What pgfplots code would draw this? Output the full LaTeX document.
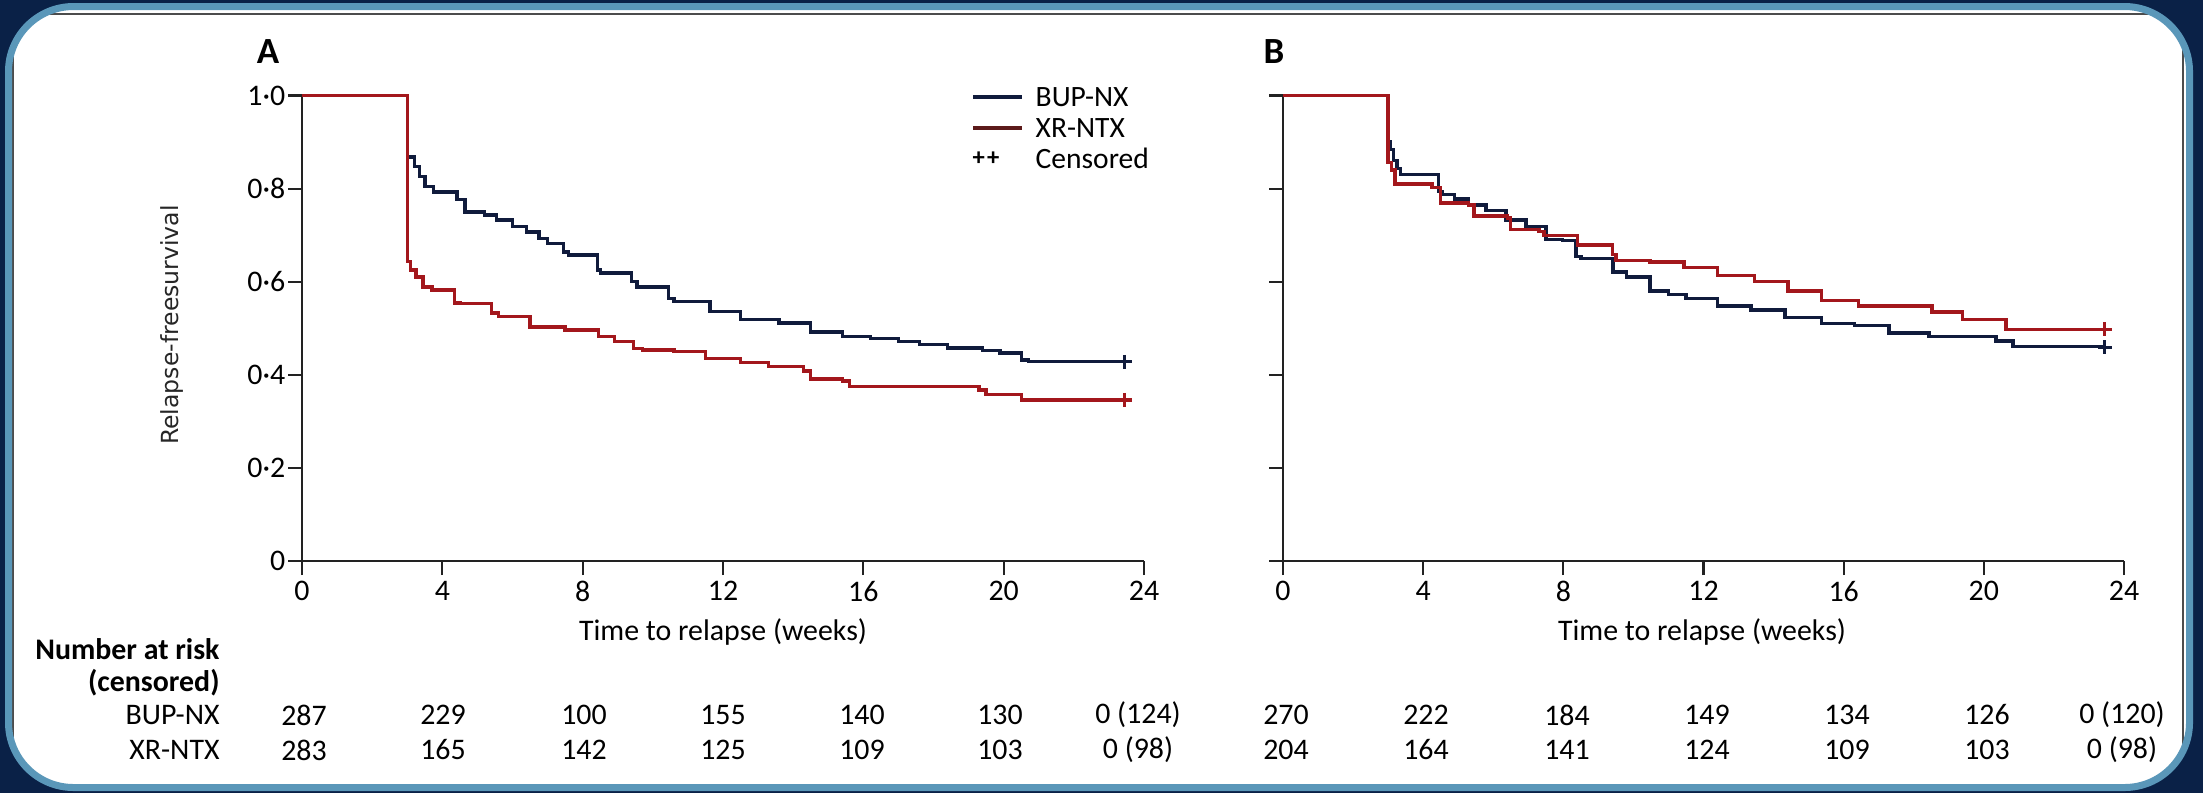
\documentclass[border=0pt]{standalone}
\usepackage{pgfplots}
\pgfplotsset{compat=1.18}
\usepackage{fontspec}
\setmainfont{Carlito}
\newfontfamily\dejavu{DejaVu Sans}
\definecolor{navybg}{HTML}{0A2147}
\definecolor{ringblue}{HTML}{5A97B9}
\definecolor{kmblue}{HTML}{101B3C}
\definecolor{kmred}{HTML}{A3171C}
\definecolor{legred}{HTML}{5C1A1A}
\definecolor{axcol}{HTML}{222222}
\newcommand{\fs}{\fontsize{8.5}{10}\selectfont}
\begin{document}
\begin{tikzpicture}
\path[use as bounding box] (0,0) rectangle (220.3mm,-79.3mm);
\fill[navybg] (0,0) rectangle (220.3mm,-79.3mm);
\fill[white, rounded corners=6.5mm] (0.85mm,-0.65mm) rectangle (218.95mm,-78.75mm);
\begin{scope}
\clip[rounded corners=6.5mm] (0.85mm,-0.65mm) rectangle (218.95mm,-78.75mm);
\draw[black!70, line width=0.2mm] (1.3mm,-1.4mm) rectangle (218.3mm,-90mm);
\end{scope}
\draw[ringblue, line width=0.7mm, rounded corners=6.5mm] (0.85mm,-0.65mm) rectangle (218.95mm,-78.75mm);

\pgfplotsset{kmaxis/.style={
  anchor=south west, scale only axis, width=84.2mm, height=46.55mm,
  xmin=0, xmax=24, ymin=0, ymax=1,
  axis lines=left, axis line style={-, line width=0.22mm, axcol},
  tick align=outside, major tick length=1.4mm,
  tick style={line width=0.22mm, axcol},
  xtick={0,4,8,12,16,20,24}, xticklabels={0,4,8,12,16,20,24},
  ytick={0,0.2,0.4,0.6,0.8,1},
  ticklabel style={font=\fs, text=black},
  yticklabel style={inner sep=0.6pt},
  xticklabel style={inner sep=1.5pt},
  clip=false,
  every axis plot/.append style={line width=0.34mm},
  }}

% Panel A
\begin{axis}[kmaxis, at={(30.2mm,-56.1mm)},
  yticklabels={0,0·2,0·4,0·6,0·8,1·0}]
\addplot[kmblue, const plot] coordinates {
(0,1.0) (3.0,0.868) (3.2,0.847) (3.35,0.826) (3.5,0.804) (3.75,0.793)
(4.42,0.776) (4.65,0.750) (5.2,0.743) (5.55,0.733) (6.0,0.718) (6.4,0.707)
(6.75,0.693) (7.0,0.682) (7.45,0.664) (7.6,0.657) (8.42,0.625) (8.5,0.619)
(9.4,0.600) (9.55,0.589) (10.45,0.564) (10.6,0.557) (11.63,0.536) (12.5,0.519)
(13.6,0.511) (14.5,0.492) (15.4,0.482) (16.2,0.478) (17.0,0.472) (17.6,0.465)
(18.4,0.458) (19.4,0.452) (19.9,0.447) (20.5,0.432) (20.7,0.428) (23.45,0.428)};
\addplot[kmred, const plot] coordinates {
(0,1.0) (3.0,0.643) (3.1,0.625) (3.25,0.610) (3.45,0.589) (3.7,0.582)
(4.35,0.554) (4.5,0.553) (5.4,0.533) (5.6,0.525) (6.5,0.503) (7.5,0.496)
(8.45,0.482) (8.9,0.471) (9.45,0.457) (9.7,0.453) (10.6,0.450) (11.5,0.435)
(12.5,0.426) (13.3,0.418) (14.3,0.408) (14.5,0.391) (15.4,0.387) (15.6,0.375)
(19.3,0.367) (19.5,0.358) (20.5,0.346) (23.45,0.346)};
\addplot[kmblue, only marks, mark=+, mark size=0.7mm] coordinates {(23.45,0.428)};
\addplot[kmred, only marks, mark=+, mark size=0.7mm] coordinates {(23.45,0.346)};
\end{axis}

% Panel B
\begin{axis}[kmaxis, at={(128.3mm,-56.1mm)}, width=84.1mm, yticklabels={}]
\addplot[kmblue, const plot] coordinates {
(0,1.0) (3.0,0.901) (3.05,0.884) (3.15,0.860) (3.25,0.843) (3.35,0.830)
(4.44,0.794) (4.55,0.788) (4.9,0.778) (5.3,0.765) (5.79,0.753) (6.36,0.733)
(6.93,0.718) (7.5,0.691) (7.98,0.688) (8.36,0.654) (8.5,0.650) (9.42,0.621)
(9.8,0.610) (10.47,0.580) (11.0,0.572) (11.5,0.564) (12.4,0.548) (13.36,0.539)
(14.32,0.523) (15.37,0.510) (16.3,0.506) (17.29,0.490) (18.44,0.482) (20.35,0.473)
(20.83,0.461) (23.45,0.459)};
\addplot[kmred, const plot] coordinates {
(0,1.0) (3.0,0.856) (3.1,0.840) (3.2,0.810) (4.25,0.802) (4.5,0.769)
(5.3,0.765) (5.45,0.741) (6.4,0.737) (6.5,0.712) (7.3,0.708) (7.45,0.699)
(8.4,0.679) (9.4,0.658) (9.5,0.646) (10.47,0.642) (11.44,0.630) (12.4,0.613)
(13.45,0.601) (14.41,0.580) (15.37,0.560) (16.42,0.548) (18.52,0.535) (19.39,0.519)
(20.63,0.498) (23.45,0.498)};
\addplot[kmblue, only marks, mark=+, mark size=0.7mm] coordinates {(23.45,0.459)};
\addplot[kmred, only marks, mark=+, mark size=0.7mm] coordinates {(23.45,0.498)};
\end{axis}

% panel letters
\node[font=\fontsize{10.5}{12}\selectfont\bfseries] at (26.8mm,-5.2mm) {A};
\node[font=\fontsize{10.5}{12}\selectfont\bfseries] at (127.4mm,-5.2mm) {B};

% y label
\node[rotate=90, font=\dejavu\fontsize{6.7}{8}\selectfont, text=black!85] at (17.2mm,-32.5mm) {Relapse-freesurvival};

% x labels
\node[font=\fs] at (72.3mm,-63.2mm) {Time to relapse (weeks)};
\node[font=\fs] at (170.2mm,-63.2mm) {Time to relapse (weeks)};

% legend
\begin{scope}[font=\fontsize{8.4}{10}\selectfont]
\draw[kmblue, line width=0.36mm] (97.3mm,-9.7mm) -- (102.2mm,-9.7mm);
\draw[legred, line width=0.36mm] (97.3mm,-12.8mm) -- (102.2mm,-12.8mm);
\node[anchor=west, inner sep=0pt] at (103.5mm,-9.7mm) {BUP-NX};
\node[anchor=west, inner sep=0pt] at (103.5mm,-12.8mm) {XR-NTX};
\node[anchor=west, inner sep=0pt] at (103.5mm,-15.8mm) {Censored};
\node[inner sep=0pt, font=\fontsize{7}{8}\selectfont\bfseries] at (98.6mm,-15.9mm) {+\kern0.6pt+};
\end{scope}

% number at risk
\begin{scope}[font=\fs]
\node[anchor=east, font=\fs\bfseries] at (23.2mm,-64.9mm) {Number at risk};
\node[anchor=east, font=\fs\bfseries] at (23.2mm,-68.3mm) {(censored)};
\node[anchor=east] at (23.2mm,-71.5mm) {BUP-NX};
\node[anchor=east] at (23.2mm,-75.0mm) {XR-NTX};
\foreach \x/\a/\b in {30.4/287/283, 44.3/229/165, 58.4/100/142, 72.3/155/125, 86.2/140/109, 100.0/130/103, 113.8/0 (124)/0 (98)} {
  \node at (\x mm,-71.5mm) {\a};
  \node at (\x mm,-75.0mm) {\b};
}
\foreach \x/\a/\b in {128.6/270/204, 142.6/222/164, 156.7/184/141, 170.7/149/124, 184.7/134/109, 198.7/126/103, 212.2/0 (120)/0 (98)} {
  \node at (\x mm,-71.5mm) {\a};
  \node at (\x mm,-75.0mm) {\b};
}
\end{scope}
\end{tikzpicture}
\end{document}
